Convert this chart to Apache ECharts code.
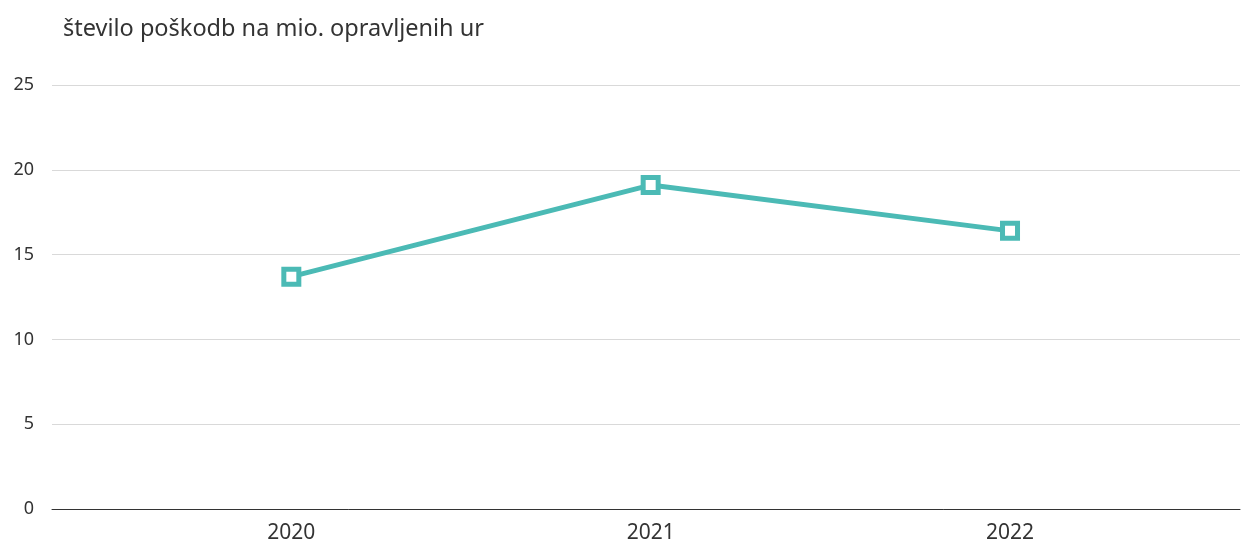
<!DOCTYPE html>
<html>
<head>
<meta charset="utf-8">
<script src="https://cdn.jsdelivr.net/npm/echarts@6/dist/echarts.min.js"></script>
<style>
  html, body { margin: 0; padding: 0; background: #fff; }
  #chart { width: 1242px; height: 541px; }
</style>
</head>
<body>
<div id="chart"></div>
<script>
// Injuries per million hours worked, by year
const years = [2020, 2021, 2022];
const injuryRate = [13.7, 19.1, 16.4];
const yTicks = [0, 5, 10, 15, 20, 25];
const titleText = 'število poškodb na mio. opravljenih ur';

const chart = echarts.init(document.getElementById('chart'), null, { renderer: 'canvas' });

chart.setOption({
  animation: false,
  backgroundColor: '#ffffff',
  textStyle: { fontFamily: '"Noto Sans", sans-serif' },
  title: {
    text: titleText,
    left: 58,
    top: 12,
    textStyle: { fontFamily: '"Noto Sans", sans-serif', fontSize: 23.5, fontWeight: 'normal', color: '#333333' }
  },
  grid: { left: 52, right: 2, top: 85, bottom: 32, containLabel: false, outerBoundsMode: 'none' },
  xAxis: {
    type: 'value',
    min: 2019.334,
    max: 2022.64,
    axisLine: { show: true, onZero: false, lineStyle: { color: '#333333', width: 1 } },
    axisTick: { show: false },
    splitLine: { show: false },
    axisLabel: {
      customValues: years,
      formatter: v => String(Math.round(v)),
      fontSize: 21,
      color: '#333333',
      margin: 14
    }
  },
  yAxis: {
    type: 'value',
    min: yTicks[0],
    max: yTicks[yTicks.length - 1],
    interval: 5,
    axisLine: { show: false },
    axisTick: { show: false },
    splitLine: { lineStyle: { color: '#d9d9d9', width: 1 } },
    axisLabel: { fontSize: 18, color: '#333333', margin: 18 }
  },
  series: [{
    type: 'line',
    data: years.map((y, i) => [y, injuryRate[i]]),
    lineStyle: { color: '#4bbab5', width: 5 },
    symbol: 'rect',
    symbolSize: 15,
    itemStyle: { color: '#ffffff', borderColor: '#4bbab5', borderWidth: 5 },
    z: 3
  }]
});
</script>
</body>
</html>
